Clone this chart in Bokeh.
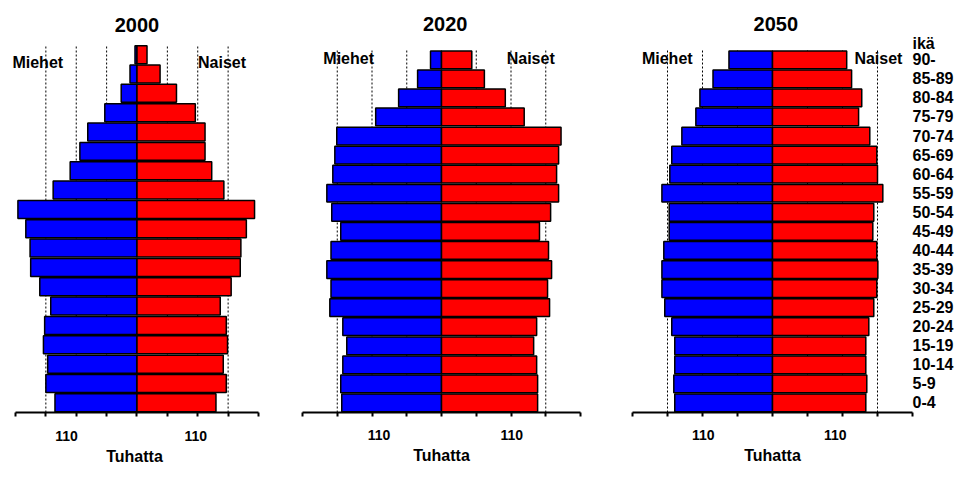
from bokeh.plotting import figure
from bokeh.models import FixedTicker, Label, ColumnDataSource, Range1d, LinearAxis
from bokeh.layouts import row
from bokeh.embed import file_html
from bokeh.resources import INLINE

# Age groups, bottom to top
ages = ["0-4", "5-9", "10-14", "15-19", "20-24", "25-29", "30-34", "35-39", "40-44",
        "45-49", "50-54", "55-59", "60-64", "65-69", "70-74", "75-79", "80-84", "85-89", "90-"]

# Values in thousands
men_2000 = [135, 150, 147, 154, 152, 142, 160, 175, 176, 183, 196, 138, 110, 94, 81, 53, 26, 11.5, 3.3]
women_2000 = [130, 147, 142, 149, 147, 137, 155, 170, 171, 180, 193.5, 143, 123, 112, 112, 96, 65, 38, 16.5]

men_2020 = [143.5, 145, 142, 136.3, 142, 160.7, 159, 165, 159, 145, 157.9, 165, 156.4, 153.5, 150.7, 94.7, 61.7, 34.4, 15.8]
women_2020 = [138.3, 138.3, 136.9, 132.6, 136.9, 155.5, 152.6, 158.4, 154, 141, 157, 168.5, 165.6, 168.5, 172, 119, 91.8, 61.7, 43.6]

men_2050 = [139.6, 141, 139.6, 139.6, 143.9, 153.9, 158, 158, 155.3, 147.6, 147.6, 158, 146.7, 143.9, 129.5, 109.5, 103.7, 85, 62.2]
women_2050 = [133.3, 134.7, 133.3, 133.3, 137.6, 144.7, 149, 150.5, 149, 143.3, 144.7, 157.6, 150, 149, 139, 123, 127.5, 113, 106]

years = ["2000", "2020", "2050"]
tick_positions = [-200, -150, -100, -50, 0, 50, 100, 150, 200]
grid_positions = [-150, -100, -50, 50, 100, 150]
x_label = "110"
x_title = "Tuhatta"
age_title = "ikä"

FONT = "Liberation Sans"
BLUE = "#0000ff"
RED = "#ff0000"


def add_label(p, x, y, text, size, align="center"):
    p.add_layout(Label(x=x, y=y, text=text, text_font=FONT, text_font_size=size,
                       text_font_style="bold", text_color="black", text_align=align,
                       text_baseline="middle"))


def make_panel(year, men, women, width, bl, br, bb, x_start, y_end, pos):
    p = figure(width=width, height=479, output_backend="svg", toolbar_location=None,
               x_range=Range1d(x_start, 200), y_range=Range1d(0, y_end),
               min_border_left=bl, min_border_right=br, min_border_top=0, min_border_bottom=bb)
    p.outline_line_color = None
    p.background_fill_color = "white"
    p.border_fill_color = "white"
    p.yaxis.visible = False
    p.grid.visible = False

    n = len(ages)
    # dashed guide lines
    p.segment(x0=grid_positions, y0=[0] * len(grid_positions),
              x1=grid_positions, y1=[n] * len(grid_positions),
              line_color="black", line_dash="2 2", line_width=1)

    ax = p.xaxis[0]
    ax.bounds = (tick_positions[0], tick_positions[-1])
    ax.ticker = FixedTicker(ticks=list(pos["labels"]), minor_ticks=tick_positions)
    ax.major_label_overrides = {v: x_label for v in pos["labels"]}
    ax.major_label_text_font = FONT
    ax.major_label_text_font_size = "14px"
    ax.major_label_text_font_style = "bold"
    ax.major_label_text_color = "black"
    ax.major_label_standoff = pos["standoff"]
    ax.major_tick_line_color = None
    ax.major_tick_out = 4
    ax.major_tick_in = 0
    ax.axis_line_width = 2
    ax.minor_tick_line_width = 2
    ax.minor_tick_line_color = "black"
    ax.minor_tick_out = 4
    ax.minor_tick_in = 0
    ax.axis_label = x_title
    ax.axis_label_text_font = FONT
    ax.axis_label_text_font_size = "16px"
    ax.axis_label_text_font_style = "bold"
    ax.axis_label_text_color = "black"
    ax.axis_label_standoff = pos["label_standoff"]

    ys = [i + 0.5 for i in range(n)]
    src = ColumnDataSource(dict(y=ys, men=[-m for m in men], women=women, zero=[0] * n))
    p.hbar(y="y", left="men", right="zero", height=0.93, fill_color=BLUE,
           line_color="black", line_width=1.5, source=src)
    p.hbar(y="y", left="zero", right="women", height=0.93, fill_color=RED,
           line_color="black", line_width=1.5, source=src)

    add_label(p, pos["title"][0], pos["title"][1], year, "20px")
    add_label(p, pos["miehet"][0], pos["miehet"][1], "Miehet", "16px", "left")
    add_label(p, pos["naiset"][0], pos["naiset"][1], "Naiset", "16px", "left")
    return p


p1 = make_panel("2000", men_2000, women_2000, 300, 10, 42, 67, -208.2, 21.3,
                dict(title=(0, 20.05), miehet=(-205, 18.1), naiset=(100.5, 18.1),
                     labels=(-116, 96.7), standoff=14, label_standoff=4))
p2 = make_panel("2020", men_2020, women_2020, 320, 2, 40, 63, -200, 21.61,
                dict(title=(5.3, 20.38), miehet=(-170, 18.57), naiset=(93.8, 18.57),
                     labels=(-89.8, 101), standoff=13, label_standoff=4))
p3 = make_panel("2050", men_2050, women_2050, 348, 12, 56, 63, -200, 21.61,
                dict(title=(4.7, 20.38), miehet=(-186.5, 18.57), naiset=(117, 18.57),
                     labels=(-99, 89.8), standoff=13, label_standoff=4))

# Age labels on the right of the last panel
age_ticks = [i + 0.5 for i in range(len(ages))]
overrides = {i + 0.5: a for i, a in enumerate(ages)}
overrides[19.38] = age_title
rax = LinearAxis(ticker=FixedTicker(ticks=age_ticks + [19.38]),
                 major_label_overrides=overrides)
rax.axis_line_color = None
rax.major_tick_line_color = None
rax.minor_tick_line_color = None
rax.major_tick_out = 0
rax.major_tick_in = 0
rax.major_label_standoff = 0
rax.major_label_text_font = FONT
rax.major_label_text_font_size = "16px"
rax.major_label_text_font_style = "bold"
rax.major_label_text_color = "black"
p3.add_layout(rax, "right")

layout = row(p1, p2, p3, spacing=0)
open("out.html", "w").write(file_html(layout, INLINE))
